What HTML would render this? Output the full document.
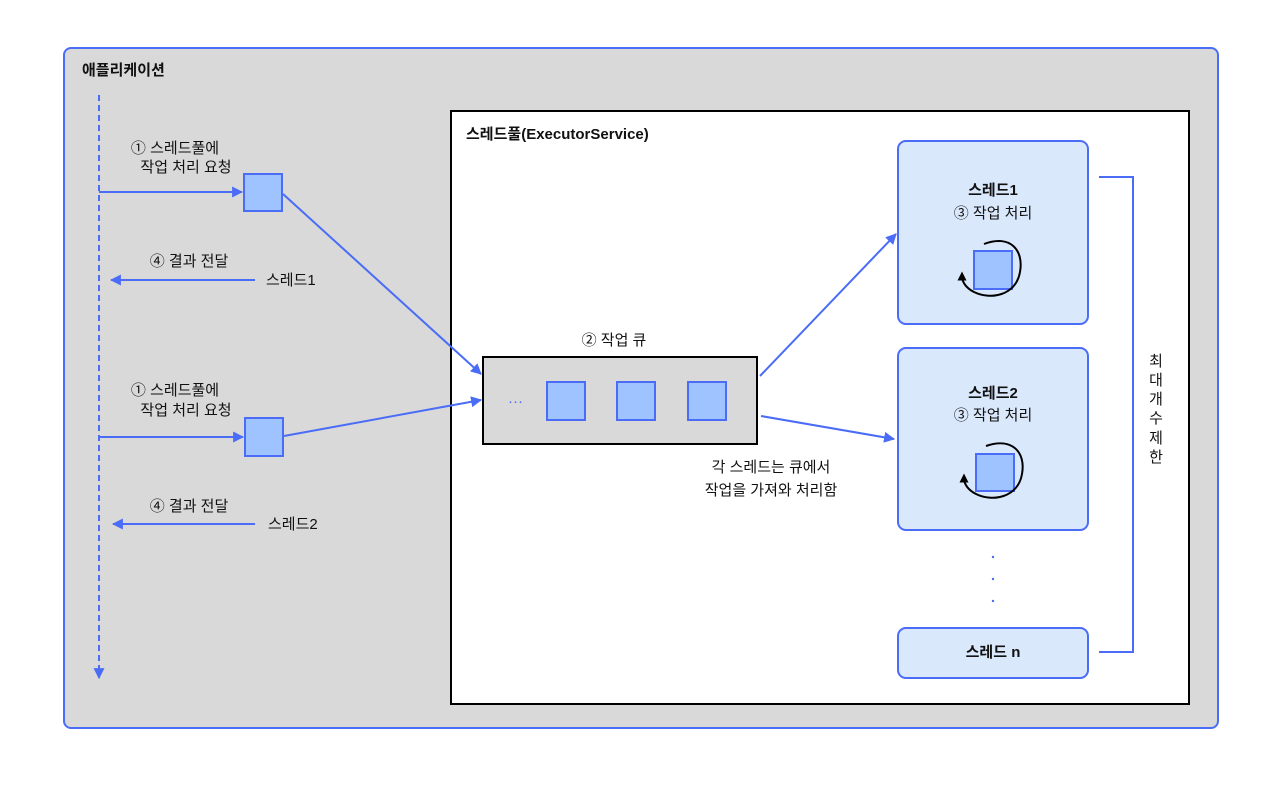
<!DOCTYPE html>
<html><head><meta charset="utf-8"><style>
html,body{margin:0;padding:0;background:#fff;}
svg{display:block;}
text{font-family:"Liberation Sans","Noto Sans CJK KR",sans-serif;font-size:15px;fill:#111;}
.b{font-weight:bold;}
.c{font-family:"Noto Sans CJK KR",sans-serif;}
</style></head><body>
<svg width="1280" height="787" viewBox="0 0 1280 787" xmlns="http://www.w3.org/2000/svg">
<defs>
<marker id="a" viewBox="0 0 10 10" refX="9" refY="5" markerWidth="5.5" markerHeight="5.5" orient="auto-start-reverse"><path d="M0,0L10,5L0,10z" fill="#4a6cf7"/></marker>
<marker id="k" viewBox="0 0 10 10" refX="5" refY="5" markerWidth="4.5" markerHeight="4.5" orient="auto"><path d="M0,0L10,5L0,10z" fill="#000"/></marker>
</defs>
<rect x="64" y="48" width="1154" height="680" rx="7" fill="#d9d9d9" stroke="#4a6cf7" stroke-width="2"/>
<text x="82" y="75" class="b">애플리케이션</text>
<line x1="99" y1="95" x2="99" y2="678" stroke="#4a6cf7" stroke-width="2" stroke-dasharray="6,4" marker-end="url(#a)"/>

<text x="175" y="153" text-anchor="middle"><tspan class="c">①</tspan> 스레드풀에</text>
<text x="186" y="172" text-anchor="middle">작업 처리 요청</text>
<line x1="99" y1="192" x2="242" y2="192" stroke="#4a6cf7" stroke-width="2" marker-end="url(#a)"/>
<rect x="244" y="174" width="38" height="37" fill="#9fc3ff" stroke="#4a6cf7" stroke-width="2"/>
<text x="189" y="266" text-anchor="middle"><tspan class="c">④</tspan> 결과 전달</text>
<line x1="255" y1="280" x2="111" y2="280" stroke="#4a6cf7" stroke-width="2" marker-end="url(#a)"/>
<text x="266" y="285">스레드1</text>

<text x="175" y="395" text-anchor="middle"><tspan class="c">①</tspan> 스레드풀에</text>
<text x="186" y="415" text-anchor="middle">작업 처리 요청</text>
<line x1="99" y1="437" x2="243" y2="437" stroke="#4a6cf7" stroke-width="2" marker-end="url(#a)"/>
<rect x="245" y="418" width="38" height="38" fill="#9fc3ff" stroke="#4a6cf7" stroke-width="2"/>
<text x="189" y="511" text-anchor="middle"><tspan class="c">④</tspan> 결과 전달</text>
<line x1="255" y1="524" x2="113" y2="524" stroke="#4a6cf7" stroke-width="2" marker-end="url(#a)"/>
<text x="268" y="529">스레드2</text>

<rect x="451" y="111" width="738" height="593" fill="#fff" stroke="#000" stroke-width="2"/>
<text x="466" y="139" class="b">스레드풀(ExecutorService)</text>

<line x1="283" y1="194" x2="481" y2="374" stroke="#4a6cf7" stroke-width="2" marker-end="url(#a)"/>
<line x1="284" y1="436" x2="481" y2="400" stroke="#4a6cf7" stroke-width="2" marker-end="url(#a)"/>

<text x="614" y="345" text-anchor="middle"><tspan class="c">②</tspan> 작업 큐</text>
<rect x="483" y="357" width="274" height="87" fill="#d9d9d9" stroke="#000" stroke-width="2"/>
<text x="508" y="406" style="fill:#4a6cf7">···</text>
<rect x="547" y="382" width="38" height="38" fill="#9fc3ff" stroke="#4a6cf7" stroke-width="2"/>
<rect x="617" y="382" width="38" height="38" fill="#9fc3ff" stroke="#4a6cf7" stroke-width="2"/>
<rect x="688" y="382" width="38" height="38" fill="#9fc3ff" stroke="#4a6cf7" stroke-width="2"/>
<line x1="760" y1="376" x2="896" y2="234" stroke="#4a6cf7" stroke-width="2" marker-end="url(#a)"/>
<line x1="761" y1="416" x2="894" y2="439" stroke="#4a6cf7" stroke-width="2" marker-end="url(#a)"/>
<text x="771" y="472" text-anchor="middle">각 스레드는 큐에서</text>
<text x="771" y="495" text-anchor="middle">작업을 가져와 처리함</text>

<rect x="898" y="141" width="190" height="183" rx="8" fill="#dae8fc" stroke="#4a6cf7" stroke-width="2"/>
<text x="993" y="195" text-anchor="middle" class="b">스레드1</text>
<text x="993" y="218" text-anchor="middle"><tspan class="c">③</tspan> 작업 처리</text>
<rect x="974" y="251" width="38" height="38" fill="#9fc3ff" stroke="#4a6cf7" stroke-width="2"/>
<path d="M984,244 C1010,234 1024,250 1020,272 C1016,296 990,300 974,292 C966,288 962,282 962,276" fill="none" stroke="#000" stroke-width="2" marker-end="url(#k)"/>

<rect x="898" y="348" width="190" height="182" rx="8" fill="#dae8fc" stroke="#4a6cf7" stroke-width="2"/>
<text x="993" y="398" text-anchor="middle" class="b">스레드2</text>
<text x="993" y="420" text-anchor="middle"><tspan class="c">③</tspan> 작업 처리</text>
<rect x="976" y="454" width="38" height="37" fill="#9fc3ff" stroke="#4a6cf7" stroke-width="2"/>
<path d="M986,446 C1012,437 1026,452 1022,474 C1018,498 992,502 976,494 C968,490 964,484 964,478" fill="none" stroke="#000" stroke-width="2" marker-end="url(#k)"/>

<circle cx="993" cy="557" r="1.2" fill="#4a6cf7"/>
<circle cx="993" cy="579" r="1.2" fill="#4a6cf7"/>
<circle cx="993" cy="601" r="1.2" fill="#4a6cf7"/>

<rect x="898" y="628" width="190" height="50" rx="8" fill="#dae8fc" stroke="#4a6cf7" stroke-width="2"/>
<text x="993" y="657" text-anchor="middle" class="b">스레드 n</text>

<polyline points="1099,177 1133,177 1133,652 1099,652" fill="none" stroke="#4a6cf7" stroke-width="2"/>
<text x="1156" y="366" text-anchor="middle">최</text>
<text x="1156" y="385" text-anchor="middle">대</text>
<text x="1156" y="404" text-anchor="middle">개</text>
<text x="1156" y="423" text-anchor="middle">수</text>
<text x="1156" y="443" text-anchor="middle">제</text>
<text x="1156" y="462" text-anchor="middle">한</text>
</svg>
</body></html>
